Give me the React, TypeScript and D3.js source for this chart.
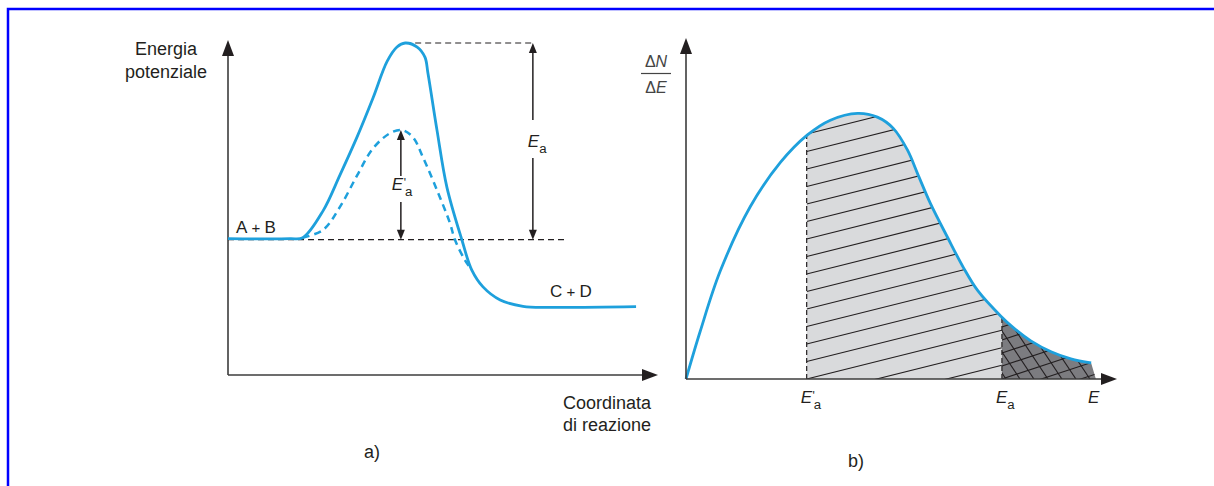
import React from 'react';
import * as d3 from 'd3';

// a) energia potenziale lungo la coordinata di reazione (x: 0-100, E: 0-100)
const uncatalysed: [number, number][] = [
  [0, 40.7], [14.4, 40.7], [17.4, 41.0], [22.1, 49.0], [26.0, 59.6], [30.0, 71.0],
  [33.7, 82.6], [37.0, 93.6], [39.3, 97.9], [41.2, 99.1], [44.0, 97.9], [45.8, 94.9],
  [46.5, 90.1], [48.6, 73.1], [50.9, 56.1], [54.4, 40.3], [56.7, 31.3], [59.3, 26.3],
  [63.3, 22.4], [68.6, 20.5], [74.9, 20.2], [94.9, 20.4],
];
const catalysed: [number, number][] = [
  [17.4, 41.0], [22.1, 43.3], [26.0, 50.1], [30.0, 59.5], [33.7, 67.6], [37.7, 72.2],
  [40.5, 73.1], [43.0, 71.0], [45.3, 65.1], [48.6, 55.2], [51.6, 45.4], [52.8, 40.3],
  [55.1, 34.3], [56.7, 31.3],
];
const reactantLevel = 40.4;
const peakLevel = 99.1;
const catPeakLevel = 73.1;
const peakX = 41.2;
const catArrowX = 40.2;
const eaArrowX = 70.9;
const topGuideEnd = 71.4;
const baseGuideEnd = 78.4;

// b) distribuzione dell'energia (E: 0-100, ΔN/ΔE: 0-100)
const distribution: [number, number][] = [
  [0, 0], [3.3, 14.0], [7.9, 31.5], [14.9, 50.5], [21.9, 63.5], [28.1, 71.5],
  [33.5, 75.9], [39.8, 77.9], [44.4, 76.8], [48.1, 73.5], [51.4, 67.1], [53.7, 60.3],
  [56.7, 51.5], [60.7, 41.5], [64.4, 32.6], [67.7, 25.9], [73.0, 18.5], [76.0, 15.0],
  [80.0, 11.2], [84.7, 8.0], [89.3, 5.9], [94.0, 4.7],
];
const ePrime = 28;
const eA = 73.3;
const tailEnd = 95.1;

const W = 1214;
const H = 486;
const blue = '#1ea0dc';
const ink = '#231f20';
const axisInk = '#3c3c3c';
const font = 'Liberation Sans, Arial, Helvetica, sans-serif';

const xA = d3.scaleLinear().domain([0, 100]).range([228, 658]);
const yA = d3.scaleLinear().domain([0, 100]).range([375, 40]);
const xB = d3.scaleLinear().domain([0, 100]).range([686, 1117]);
const yB = d3.scaleLinear().domain([0, 100]).range([379, 38]);

function Head({ x, y, dir, len = 10, half = 4, fill = ink }: any) {
  // dir: 'up' | 'down' | 'right'
  let pts: number[][];
  if (dir === 'up') pts = [[x, y], [x - half, y + len], [x + half, y + len]];
  else if (dir === 'down') pts = [[x, y], [x - half, y - len], [x + half, y - len]];
  else pts = [[x, y], [x - len, y - half], [x - len, y + half]];
  return <polygon points={pts.map(p => p.join(',')).join(' ')} fill={fill} />;
}

// E, E_a, E'_a in un unico testo
function ELabel({ x, y, prime, sub = true, size = 17 }: any) {
  return (
    <text x={x} y={y} fontSize={size} fill={ink} fontFamily={font}>
      <tspan fontStyle="italic">E</tspan>
      {prime && <tspan dx={0.5} dy={-size * 0.2} fontSize={size * 0.7}>'</tspan>}
      {sub && (
        <tspan dx={prime ? -1 : 0} dy={prime ? size * 0.53 : size * 0.33} fontSize={size * 0.78}>a</tspan>
      )}
    </text>
  );
}

export default function App() {
  const lineA = d3.line<[number, number]>().x(d => xA(d[0])).y(d => yA(d[1])).curve(d3.curveCatmullRom.alpha(0.5));
  const lineB = d3.line<[number, number]>().x(d => xB(d[0])).y(d => yB(d[1])).curve(d3.curveCatmullRom.alpha(0.5));
  const curveB = lineB(distribution) as string;
  const areaB = `${curveB}L${xB(tailEnd)},${yB(0)}L${xB(0)},${yB(0)}Z`;

  const x0 = xB(ePrime);
  const x1 = xB(eA);
  const x2 = xB(100);
  const base = yB(0);
  const top = yB(100);

  // tratteggio chiaro
  const lightHatch = d3.range(-4, 18).map(k => {
    const ya = base - k * 17.5;
    return [x0, ya, x1, ya - 0.25 * (x1 - x0)];
  });
  // tratteggio incrociato nella coda
  const darkHatchA = d3.range(-8, 10).map(k => {
    const ya = base - k * 13;
    return [x1, ya, x2, ya - 0.33 * (x2 - x1)];
  });
  const darkHatchB = d3.range(-8, 14).map(k => {
    const xs = x1 + k * 14;
    return [xs, base - 90, xs + 90 / 1.5, base];
  });

  const yReact = yA(reactantLevel);
  const yPeak = yA(peakLevel);
  const yCat = yA(catPeakLevel);

  return (
    <svg width={W} height={H} style={{ position: 'absolute', left: 0, top: 0 }} fontFamily={font}>
      <rect x={8} y={9} width={W + 40} height={H + 40} fill="#fff" stroke="#0000ff" strokeWidth={2.5} />

      {/* ---------- a) ---------- */}
      <line x1={xA(0)} y1={yA(0)} x2={xA(100) - 12} y2={yA(0)} stroke={axisInk} strokeWidth={1.6} />
      <Head x={xA(100)} y={yA(0)} dir="right" len={16} half={6} fill={ink} />
      <line x1={xA(0)} y1={yA(0)} x2={xA(0)} y2={yA(100) + 12} stroke={axisInk} strokeWidth={1.6} />
      <Head x={xA(0)} y={yA(100)} dir="up" len={16} half={6} fill={ink} />

      <line x1={xA(0)} y1={yReact} x2={xA(baseGuideEnd)} y2={yReact} stroke={ink} strokeWidth={1.2} strokeDasharray="6 4" />
      <line x1={xA(peakX)} y1={yPeak} x2={xA(topGuideEnd)} y2={yPeak} stroke={ink} strokeWidth={1.2} strokeDasharray="6 4" />

      <path d={lineA(catalysed) as string} fill="none" stroke={blue} strokeWidth={2.5} strokeDasharray="7 5" />
      <path d={lineA(uncatalysed) as string} fill="none" stroke={blue} strokeWidth={2.8} />

      {/* Ea */}
      <line x1={xA(eaArrowX)} y1={yPeak + 6} x2={xA(eaArrowX)} y2={120} stroke={ink} strokeWidth={1.5} />
      <line x1={xA(eaArrowX)} y1={158} x2={xA(eaArrowX)} y2={yReact - 6} stroke={ink} strokeWidth={1.5} />
      <Head x={xA(eaArrowX)} y={yPeak} dir="up" />
      <Head x={xA(eaArrowX)} y={yReact} dir="down" />
      <ELabel x={xA(eaArrowX) - 5} y={147} />

      {/* E'a */}
      <line x1={xA(catArrowX)} y1={yCat + 6} x2={xA(catArrowX)} y2={176} stroke={ink} strokeWidth={1.5} />
      <line x1={xA(catArrowX)} y1={202} x2={xA(catArrowX)} y2={yReact - 6} stroke={ink} strokeWidth={1.5} />
      <Head x={xA(catArrowX)} y={yCat} dir="up" />
      <Head x={xA(catArrowX)} y={yReact} dir="down" />
      <ELabel x={xA(catArrowX) - 9} y={190} prime />

      <text x={166} y={55} textAnchor="middle" fontSize={18} fill={ink}>Energia</text>
      <text x={166} y={78} textAnchor="middle" fontSize={18} fill={ink}>potenziale</text>
      <text x={236} y={233} fontSize={17} fill={ink}>A<tspan fontSize={15}> + </tspan>B</text>
      <text x={550} y={297} fontSize={17} fill={ink}>C<tspan fontSize={15}> + </tspan>D</text>
      <text x={563} y={409} fontSize={18} fill={ink}>Coordinata</text>
      <text x={563} y={431} fontSize={18} fill={ink}>di reazione</text>
      <text x={372} y={458} textAnchor="middle" fontSize={18} fill={ink}>a)</text>

      {/* ---------- b) ---------- */}
      <defs>
        <clipPath id="under"><path d={areaB} /></clipPath>
        <clipPath id="lightBand"><rect x={x0} y={top} width={x1 - x0} height={base - top} /></clipPath>
        <clipPath id="darkBand"><rect x={x1} y={top} width={x2 - x1} height={base - top} /></clipPath>
      </defs>
      <g clipPath="url(#under)">
        <rect x={x0} y={top} width={x1 - x0} height={base - top} fill="#d9dadc" />
        <rect x={x1} y={top} width={x2 - x1} height={base - top} fill="#7c7c80" />
        <g clipPath="url(#lightBand)">
          {lightHatch.map((l, i) => (
            <line key={i} x1={l[0]} y1={l[1]} x2={l[2]} y2={l[3]} stroke={ink} strokeWidth={1.1} />
          ))}
        </g>
        <g clipPath="url(#darkBand)">
          {darkHatchA.map((l, i) => (
            <line key={'a' + i} x1={l[0]} y1={l[1]} x2={l[2]} y2={l[3]} stroke={ink} strokeWidth={1.1} />
          ))}
          {darkHatchB.map((l, i) => (
            <line key={'b' + i} x1={l[0]} y1={l[1]} x2={l[2]} y2={l[3]} stroke={ink} strokeWidth={1.1} />
          ))}
        </g>
        <line x1={x0} y1={top} x2={x0} y2={base} stroke={ink} strokeWidth={1.2} strokeDasharray="5 3" />
        <line x1={x1} y1={top} x2={x1} y2={base} stroke={ink} strokeWidth={1.2} strokeDasharray="5 3" />
      </g>
      <path d={curveB} fill="none" stroke={blue} strokeWidth={2.8} />

      <line x1={xB(0)} y1={base} x2={xB(100) - 12} y2={base} stroke={axisInk} strokeWidth={1.6} />
      <Head x={xB(100)} y={base} dir="right" len={16} half={6} fill={ink} />
      <line x1={xB(0)} y1={base} x2={xB(0)} y2={top + 12} stroke={axisInk} strokeWidth={1.6} />
      <Head x={xB(0)} y={top} dir="up" len={16} half={6} fill={ink} />

      <text x={656} y={67} textAnchor="middle" fontSize={16} fill="#444">Δ<tspan fontStyle="italic">N</tspan></text>
      <line x1={641} y1={73.5} x2={671} y2={73.5} stroke="#444" strokeWidth={1.2} />
      <text x={656} y={93} textAnchor="middle" fontSize={16} fill="#444">Δ<tspan fontStyle="italic">E</tspan></text>

      <ELabel x={x0 - 6} y={403} prime />
      <ELabel x={x1 - 6} y={403} />
      <ELabel x={1088} y={403} sub={false} />
      <text x={856} y={467} textAnchor="middle" fontSize={18} fill={ink}>b)</text>
    </svg>
  );
}
